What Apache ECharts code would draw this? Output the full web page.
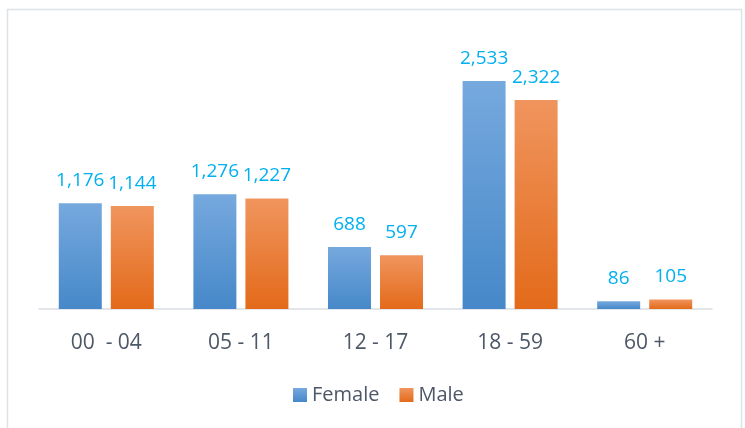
<!DOCTYPE html>
<html>
<head>
<meta charset="utf-8">
<script src="https://cdn.jsdelivr.net/npm/echarts@6/dist/echarts.min.js"></script>
<style>
    html, body { margin: 0; padding: 0; background: #ffffff; }
    #chart { width: 745px; height: 428px; }
</style>
</head>
<body>
<div id="chart"></div>
<script>
// 数据
const categories = ['00  - 04', '05 - 11', '12 - 17', '18 - 59', '60 +'];
const female = [1176, 1276, 688, 2533, 86];
const male = [1144, 1227, 597, 2322, 105];

const labelColor = '#00B0F0';
const textColor = '#4d5766';

function grad(top, bottom) {
    return new echarts.graphic.LinearGradient(0, 0, 0, 1, [
        { offset: 0, color: top },
        { offset: 1, color: bottom }
    ]);
}

const barLabel = {
    show: true,
    position: 'top',
    distance: 13,
    color: labelColor,
    fontSize: 19,
    fontFamily: 'Open Sans',
    formatter: p => p.value.toLocaleString('en-US')
};

const chart = echarts.init(document.getElementById('chart'));
chart.setOption({
    animation: false,
    textStyle: { fontFamily: 'Open Sans' },
    graphic: [{
        type: 'rect',
        shape: { x: 7.5, y: 9.5, width: 734, height: 440 },
        style: { fill: 'none', stroke: '#dde2e8', lineWidth: 1.5 },
        silent: true
    }],
    legend: {
        left: 288,
        top: 380,
        itemWidth: 14,
        itemHeight: 14,
        itemGap: 20,
        icon: 'rect',
        textStyle: { color: textColor, fontSize: 20, fontFamily: 'Open Sans' },
        data: ['Female', 'Male']
    },
    grid: { left: 39, right: 33, top: 39, bottom: 119 },
    xAxis: {
        type: 'category',
        data: categories,
        axisLine: { lineStyle: { color: '#d9dde2', width: 1.5 } },
        axisTick: { show: false },
        axisLabel: { color: textColor, fontSize: 21, margin: 24, fontFamily: 'Open Sans' }
    },
    yAxis: {
        type: 'value',
        min: 0,
        max: 3000,
        show: false,
        splitLine: { show: false }
    },
    series: [
        {
            name: 'Female',
            type: 'bar',
            data: female,
            barGap: '21%',
            barCategoryGap: '29.4%',
            itemStyle: { color: grad('#76a9de', '#4688c9') },
            label: barLabel
        },
        {
            name: 'Male',
            type: 'bar',
            data: male,
            itemStyle: { color: grad('#f0955e', '#e36a1a') },
            label: barLabel
        }
    ]
});
</script>
</body>
</html>
